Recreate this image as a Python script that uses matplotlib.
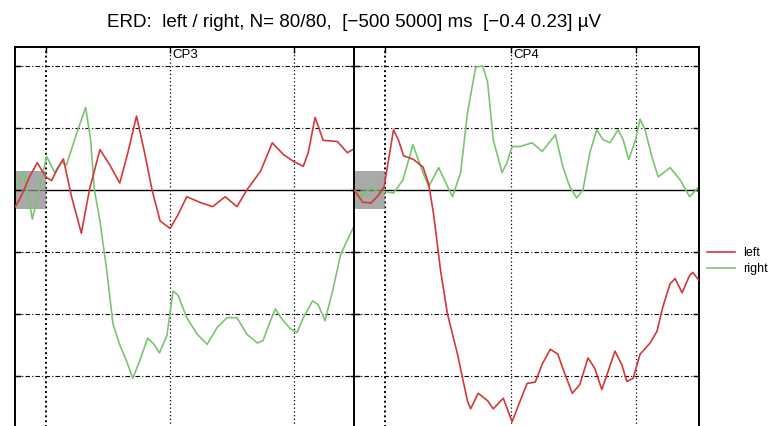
import numpy as np
import matplotlib
matplotlib.use("Agg")
import matplotlib.pyplot as plt
from matplotlib.patches import Rectangle

# time axis in ms, amplitude in microvolts
CP3_LEFT_T = [-500, -400, -270, -140, -60, 10, 90, 190, 280, 410, 570, 700, 870, 1030,
              1190, 1320, 1460, 1590, 1710, 1840, 2000, 2130, 2270, 2480, 2690, 2890,
              3080, 3240, 3460, 3650, 3830, 3990, 4150, 4230, 4340, 4470, 4700, 4860, 5000]
CP3_LEFT_V = [-0.028, -0.01, 0.02, 0.044, 0.03, 0.02, 0.015, 0.035, 0.05, -0.01, -0.07,
              0.0, 0.065, 0.04, 0.011, 0.06, 0.119, 0.06, 0.0, -0.05, -0.062, -0.04,
              -0.011, -0.02, -0.027, -0.011, -0.027, 0.0, 0.03, 0.076, 0.057, 0.046,
              0.038, 0.06, 0.117, 0.08, 0.078, 0.06, 0.068]

CP3_RIGHT_T = [-500, -360, -220, -110, 10, 140, 250, 330, 490, 640, 720, 780, 870, 980,
               1080, 1190, 1300, 1400, 1510, 1640, 1750, 1830, 1950, 2050, 2130, 2270,
               2440, 2600, 2760, 2920, 3080, 3240, 3410, 3500, 3620, 3700, 3780, 3940,
               4050, 4150, 4300, 4390, 4500, 4630, 4750, 4860, 4960, 5000]
CP3_RIGHT_V = [0.0, 0.03, -0.047, 0.0, 0.054, 0.028, 0.045, 0.04, 0.09, 0.133, 0.08, 0.0,
               -0.05, -0.13, -0.216, -0.25, -0.276, -0.304, -0.276, -0.239, -0.25, -0.263,
               -0.235, -0.163, -0.17, -0.206, -0.233, -0.249, -0.222, -0.206, -0.206,
               -0.233, -0.247, -0.243, -0.211, -0.192, -0.205, -0.224, -0.23, -0.206,
               -0.179, -0.185, -0.211, -0.16, -0.105, -0.081, -0.06, -0.049]

CP4_LEFT_T = [-500, -360, -230, -120, -20, 130, 210, 290, 450, 600, 690, 770, 880, 990,
              1150, 1310, 1360, 1480, 1630, 1720, 1880, 2020, 2150, 2260, 2390, 2500,
              2630, 2750, 2830, 2980, 3100, 3230, 3340, 3450, 3550, 3660, 3770, 3850,
              3950, 4060, 4220, 4330, 4420, 4540, 4620, 4730, 4850, 4900, 5000]
CP4_LEFT_V = [0.0, -0.02, -0.021, -0.01, 0.005, 0.097, 0.08, 0.055, 0.049, 0.037, 0.01,
              -0.04, -0.13, -0.2, -0.265, -0.341, -0.353, -0.328, -0.34, -0.353, -0.336,
              -0.374, -0.34, -0.312, -0.31, -0.281, -0.257, -0.265, -0.288, -0.328,
              -0.314, -0.271, -0.288, -0.322, -0.293, -0.26, -0.282, -0.309, -0.304,
              -0.265, -0.247, -0.228, -0.19, -0.151, -0.143, -0.166, -0.138, -0.133,
              -0.146]

CP4_RIGHT_T = [-500, -360, -230, -100, 10, 130, 280, 440, 520, 600, 690, 850, 960, 1070,
               1200, 1310, 1440, 1550, 1630, 1720, 1860, 1940, 2020, 2150, 2340, 2500,
               2710, 2830, 2940, 3050, 3150, 3260, 3370, 3470, 3580, 3710, 3790, 3880,
               3990, 4060, 4140, 4250, 4350, 4540, 4700, 4850, 5000]
CP4_RIGHT_V = [0.0, -0.01, 0.005, -0.005, -0.003, -0.005, 0.016, 0.073, 0.05, 0.028,
               0.005, 0.036, 0.012, -0.011, 0.028, 0.125, 0.198, 0.2, 0.174, 0.081,
               0.028, 0.044, 0.07, 0.07, 0.076, 0.062, 0.089, 0.037, 0.005, -0.013, 0.0,
               0.06, 0.097, 0.081, 0.076, 0.097, 0.081, 0.049, 0.081, 0.114, 0.097,
               0.053, 0.021, 0.036, 0.016, -0.011, 0.005]

CHANNELS = ["CP3", "CP4"]
CLASSES = ["left", "right"]
COLORS = ["#d53838", "#7cc472"]
XLIM = (-500, 5000)
YLIM = (-0.4, 0.23)


def drawPanel(ax, name, left, right):
    ax.add_patch(Rectangle((XLIM[0], -0.03), -XLIM[0], 0.06, facecolor="#8c8c8c",
                           alpha=0.75, edgecolor="none", zorder=1))
    l1, = ax.plot(left[0], left[1], color=COLORS[0], lw=1.2, zorder=3)
    l2, = ax.plot(right[0], right[1], color=COLORS[1], lw=1.2, zorder=2)

    for y in [-0.3, -0.2, -0.1, 0.1, 0.2]:
        ax.axhline(y, color="black", lw=0.8, ls=(0, (4, 2, 1, 2)), zorder=0)
    for x in [2000, 4000]:
        ax.axvline(x, color="black", lw=0.9, ls=(0, (1, 2)), zorder=0)
    ax.axvline(0, color="black", lw=1.4, ls=(0, (1, 1.5)), zorder=0)
    ax.axhline(0, color="black", lw=1.0, zorder=0)

    ax.set_xlim(*XLIM)
    ax.set_ylim(*YLIM)
    ax.set_xticks([0, 2000, 4000])
    ax.set_yticks([-0.3, -0.2, -0.1, 0, 0.1, 0.2])
    ax.tick_params(direction="in", length=4, width=1, top=True, right=True,
                   labelbottom=False, labelleft=False)
    for s in ax.spines.values():
        s.set_linewidth(1.4)
    ax.text(0.5, 0.995, name, transform=ax.transAxes, ha="center", va="top",
            fontsize=9.5, family="Liberation Sans")
    return l1, l2


fig = plt.figure(figsize=(7.73, 4.26), dpi=100)
ax1 = fig.add_axes([15 / 773, -0.028, 341 / 773, 0.917])
ax2 = fig.add_axes([354 / 773, -0.028, 345 / 773, 0.917])

lines = drawPanel(ax1, CHANNELS[0], (CP3_LEFT_T, CP3_LEFT_V), (CP3_RIGHT_T, CP3_RIGHT_V))
drawPanel(ax2, CHANNELS[1], (CP4_LEFT_T, CP4_LEFT_V), (CP4_RIGHT_T, CP4_RIGHT_V))

fig.text(0.458, 0.948, "ERD:  left / right, N= 80/80,  [\u2212500 5000] ms  [\u22120.4 0.23] \u00b5V",
         ha="center", va="center", fontsize=13.5, family="Liberation Sans")

fig.legend(lines, CLASSES, loc="center left", bbox_to_anchor=(0.914, 0.387),
           frameon=False, handlelength=2.3, handletextpad=0.6,
           labelspacing=0.35, borderaxespad=0, borderpad=0,
           prop={"family": "Liberation Sans", "size": 9})

plt.savefig("out.png", dpi=100)
